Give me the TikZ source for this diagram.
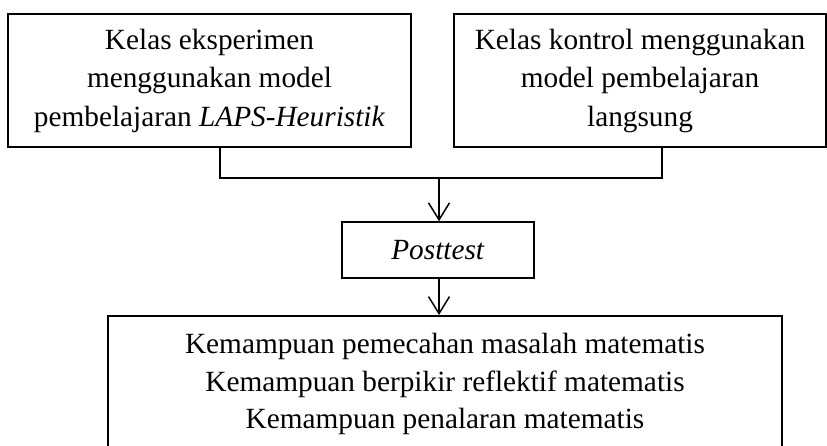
\documentclass[tikz,border=0pt]{standalone}
\usepackage{fontspec}
\setmainfont{Liberation Serif}
\usetikzlibrary{arrows.meta}
\begin{document}
\begin{tikzpicture}[x=1pt,y=-1pt,
  box/.style={draw,line width=1.5pt,rectangle,inner sep=0pt,align=center,
    font=\fontsize{29.3}{38.5}\selectfont},
  txt/.style={inner sep=0pt,align=center,font=\fontsize{29.3}{37.5}\selectfont},
  link/.style={line width=1.5pt},
  arr/.style={line width=1.5pt,-{Straight Barb[length=17pt,width=21pt,line width=1.5pt]}}]
\useasboundingbox (0,0) rectangle (827,445);
\node[box,minimum width=403,minimum height=133] (b1) at (209.5,80.5)
  {Kelas eksperimen\\ menggunakan model\\ pembelajaran \textit{LAPS-Heuristik}};
\node[box,minimum width=372,minimum height=133] (b2) at (640,80.5)
  {Kelas kontrol menggunakan\\ model pembelajaran\\ langsung};
\coordinate (s1) at (220,147);
\coordinate (s2) at (662,147);
\coordinate (h1) at (220,178);
\coordinate (h2) at (662,178);
\coordinate (j) at (439,178);
\draw[link] (s1) -- (h1) -- (h2) -- (s2);
\node[box,minimum width=192,minimum height=56] (post) at (438,250) {\textit{Posttest}};
\node[box,minimum width=674,minimum height=132,anchor=north] (res) at (445,315) {};
\node[txt,anchor=north] (restext) at (445,333)
  {Kemampuan pemecahan masalah matematis\\ Kemampuan berpikir reflektif matematis\\ Kemampuan penalaran matematis};
\draw[arr] (j) -- (post.north -| j);
\draw[arr] (post.south -| j) -- (res.north -| j);
\end{tikzpicture}
\end{document}
